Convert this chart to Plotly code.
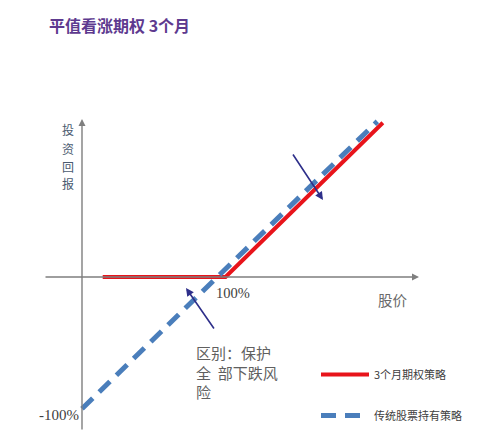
import plotly.graph_objects as go

# payoff diagram, x = stock price (% of strike), y = return (%)
option_price = [15, 104, 218]
option_return = [0, 0, 116]
stock_price = [0, 214]
stock_return = [-99, 117]

series_names = ['3个月期权策略', '传统股票持有策略']
title_text = '平值看涨期权 3个月'
y_title = '投资回报'

# page body has an 8px margin, so the figure is drawn 8px in from the corner
OFF = 8
W, H = 499 - OFF, 431 - OFF
X_ORIGIN, Y_ORIGIN = 82, 277      # pixel position of (0, 0) in the page
X_SCALE, Y_SCALE = 1.38, 1.33     # pixels per percent

x_range = [-(X_ORIGIN - OFF) / X_SCALE, (W - X_ORIGIN + OFF) / X_SCALE]
y_range = [-(H - Y_ORIGIN + OFF) / Y_SCALE, (Y_ORIGIN - OFF) / Y_SCALE]

CJK = 'Noto Sans CJK SC'
SERIF = 'Liberation Serif'
GREY = '#7f7f7f'
NAVY = '#2e2f8a'

fig = go.Figure()
fig.add_trace(go.Scatter(
    x=option_price, y=option_return, mode='lines', name=series_names[0],
    legendgroup='a', line=dict(color='#e8141b', width=4),
))
fig.add_trace(go.Scatter(
    x=stock_price, y=stock_return, mode='lines', name=series_names[1],
    legendgroup='b', line=dict(color='#4a7ebb', width=5, dash='15px,9px'),
))


def px2x(p):
    return (p - X_ORIGIN) / X_SCALE


def px2y(p):
    return (Y_ORIGIN - p) / Y_SCALE


def arrow(x0, y0, x1, y1, color, width, head):
    fig.add_annotation(
        x=px2x(x1), y=px2y(y1), ax=px2x(x0), ay=px2y(y0),
        xref='x', yref='y', axref='x', ayref='y',
        text='', showarrow=True, arrowhead=head, arrowsize=1,
        arrowwidth=width, arrowcolor=color,
    )


# axes
arrow(44, Y_ORIGIN, 419, Y_ORIGIN, GREY, 1.4, 2)
arrow(X_ORIGIN, 431, X_ORIGIN, 119, GREY, 1.4, 2)
# pointers
arrow(215, 330, 186, 288, NAVY, 1.6, 2)
arrow(292, 153, 323, 200, NAVY, 1.6, 2)


def label(text, x, y, size, color, family=CJK, xanchor='left', yanchor='middle'):
    fig.add_annotation(
        x=(x - OFF) / W, y=1 - (y - OFF) / H, xref='paper', yref='paper', text=text,
        showarrow=False, xanchor=xanchor, yanchor=yanchor, align='left',
        font=dict(family=family, size=size, color=color), borderpad=0,
    )


label('<b>' + title_text + '</b>', 48, 25, 16, '#5e3a8f')
# vertical axis title, one character per row
for i, ch in enumerate(y_title):
    label(ch, 68, 130 + i * 18, 12, '#4a5a70', xanchor='center')
label('100%', 215, 293, 14.5, '#404040', family=SERIF)
label('-100%', 38, 415, 15, '#404040', family=SERIF)
label('股价', 377, 299, 14.5, '#6a6a6a')
label('区别：保护<br>全  部下跌风<br>险', 195, 372, 15, '#606060')

fig.update_layout(
    width=W, height=H, autosize=False,
    margin=dict(l=0, r=0, t=0, b=0),
    paper_bgcolor='white', plot_bgcolor='white',
    xaxis=dict(range=x_range, visible=False, fixedrange=True),
    yaxis=dict(range=y_range, visible=False, fixedrange=True),
    showlegend=True,
    legend=dict(
        x=(316 - OFF) / W, y=1 - (360 - OFF) / H, xanchor='left', yanchor='top',
        traceorder='grouped', tracegroupgap=22, itemwidth=48,
        bgcolor='rgba(0,0,0,0)',
        font=dict(family=CJK, size=11, color='#404040'),
    ),
)

fig.write_html('out.html')
